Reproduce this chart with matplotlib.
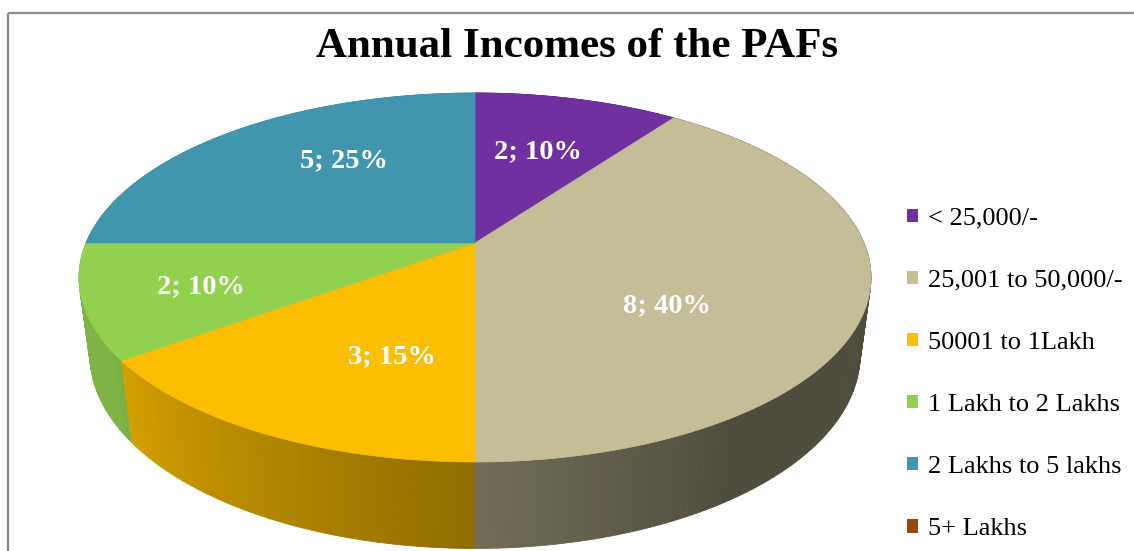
import numpy as np
import matplotlib.pyplot as plt
from matplotlib.patches import Patch, Rectangle
from matplotlib.collections import PolyCollection

# data
categories = ['< 25,000/-', '25,001 to 50,000/-', '50001 to 1Lakh',
              '1 Lakh to 2 Lakhs', '2 Lakhs to 5 lakhs', '5+ Lakhs']
counts = [2, 8, 3, 2, 5, 0]
colors = ['#7030A0', '#C4BD97', '#FBBE00', '#92D050', '#4196AE', '#984807']

title = 'Annual Incomes of the PAFs'

# where Excel put the data labels (pixels)
label_pos = [(538, 152), (667, 306), (392, 357), (201, 287), (344, 161), None]

plt.rcParams['font.family'] = ['Liberation Serif', 'DejaVu Serif']

W, H = 1134, 551
fig = plt.figure(figsize=(W / 100, H / 100), dpi=100)
ax = fig.add_axes([0, 0, 1, 1])
ax.set_xlim(0, W)
ax.set_ylim(H, 0)
ax.axis('off')


def project(theta, r=1.0, z=0.0):
    ''' perspective view of a point on the pie: theta clockwise from 12 o'clock '''
    u = r * np.sin(np.radians(theta))
    v = r * np.cos(np.radians(theta))
    w = 1 + 0.187 * v + 0.0275 * z
    return 475 + 389 * u / w, (243 - 132.6 * v + 85.4 * z) / w


def shade(theta):
    return np.clip(0.40 + (theta - 145) * 0.005, 0.40, 0.86)


total = sum(counts)
fracs = np.array(counts) / total
edges = np.concatenate([[0], np.cumsum(fracs) * 360])

# outer wall, drawn back to front
segs, seg_cols, depth = [], [], []
for i, c in enumerate(colors):
    a0, a1 = edges[i], edges[i + 1]
    if a1 - a0 <= 0:
        continue
    n = max(int(a1 - a0), 2)
    th = np.linspace(a0, a1, n + 1)
    rgb = np.array(plt.matplotlib.colors.to_rgb(c))
    for ta, tb in zip(th[:-1], th[1:]):
        xa, ya = project(ta)
        xb, yb = project(tb)
        xc, yc = project(tb, z=1)
        xd, yd = project(ta, z=1)
        segs.append([(xa, ya), (xb, yb), (xc, yc), (xd, yd)])
        seg_cols.append(tuple(rgb * shade((ta + tb) / 2)))
        depth.append(np.cos(np.radians((ta + tb) / 2)))
order = np.argsort(depth)[::-1]
walls = PolyCollection([segs[k] for k in order],
                       facecolors=[seg_cols[k] for k in order],
                       edgecolors=[seg_cols[k] for k in order], linewidths=0.6)
ax.add_collection(walls)

# top face
for i, c in enumerate(colors):
    a0, a1 = edges[i], edges[i + 1]
    if a1 - a0 <= 0:
        continue
    th = np.linspace(a0, a1, 200)
    xs, ys = project(th)
    cx, cy = project(0, r=0)
    poly = np.column_stack([np.r_[cx, xs], np.r_[cy, ys]])
    ax.fill(poly[:, 0], poly[:, 1], color=c, lw=0.5, ec=c)

# data labels
for i, pos in enumerate(label_pos):
    if pos is None or counts[i] == 0:
        continue
    ax.text(pos[0], pos[1], f'{counts[i]}; {fracs[i] * 100:.0f}%',
            ha='center', va='center', color='white', fontsize=20.5,
            fontweight='bold')

ax.text(577, 57, title, ha='center', va='baseline', fontsize=31,
        fontweight='bold', color='black')

handles = [Patch(facecolor=c, edgecolor='none') for c in colors]
ax.legend(handles, categories, loc='center left', bbox_to_anchor=(907, 374),
          bbox_transform=ax.transData, frameon=False, fontsize=19,
          handlelength=0.4, handleheight=0.4, handletextpad=0.38,
          labelspacing=1.52, borderpad=0, borderaxespad=0)

ax.add_patch(Rectangle((8, 13), 1200, 600, fill=False, ec='#8c8c8c', lw=1.6))

fig.savefig('out.png', dpi=100)
